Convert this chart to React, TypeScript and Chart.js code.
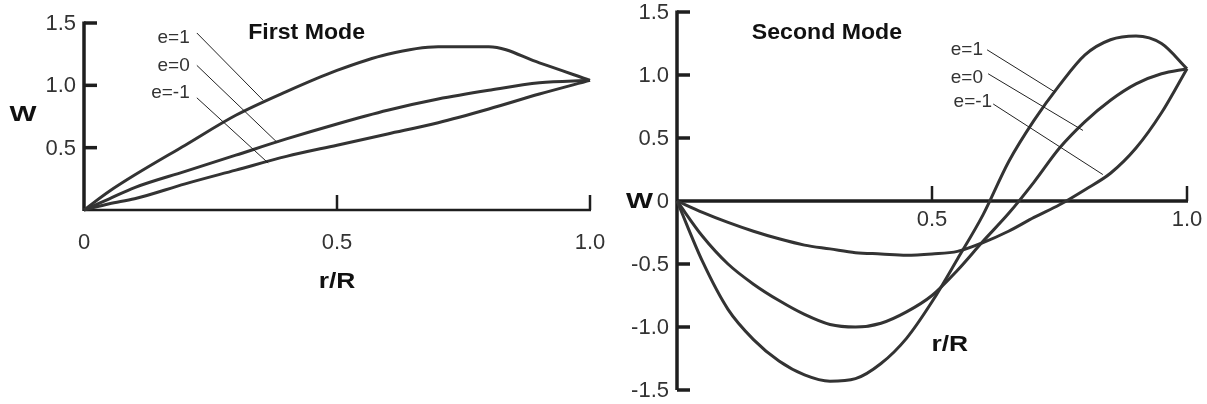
import React, { useEffect, useRef } from 'react';
import { Chart, registerables } from 'chart.js';

Chart.register(...registerables);

// ---------- First mode ----------
const firstR = [0, 0.05, 0.1, 0.2, 0.3, 0.4, 0.5, 0.6, 0.7, 0.8, 0.9, 1.0];
const firstE1 = [0, 0.15, 0.28, 0.52, 0.76, 0.95, 1.12, 1.25, 1.31, 1.31, 1.18, 1.04];
const firstE0 = [0, 0.09, 0.18, 0.31, 0.44, 0.57, 0.69, 0.8, 0.89, 0.96, 1.02, 1.04];
const firstEm1 = [0, 0.05, 0.09, 0.21, 0.32, 0.43, 0.52, 0.61, 0.7, 0.81, 0.93, 1.04];
const firstXTicks = [0, 0.5, 1.0];
const firstXTickLabels = ['0', '0.5', '1.0'];
const firstYTicks = [0.5, 1.0, 1.5];
const firstYTickLabels = ['0.5', '1.0', '1.5'];

// ---------- Second mode ----------
const secondR = [0, 0.05, 0.1, 0.15, 0.2, 0.25, 0.3, 0.35, 0.4, 0.45, 0.5, 0.55, 0.6, 0.65, 0.7, 0.75, 0.8, 0.85, 0.9, 0.95, 1.0];
const secondE1 = [0, -0.48, -0.86, -1.1, -1.27, -1.38, -1.43, -1.41, -1.29, -1.09, -0.8, -0.46, -0.11, 0.31, 0.64, 0.92, 1.16, 1.28, 1.31, 1.25, 1.05];
const secondE0 = [0, -0.28, -0.5, -0.66, -0.79, -0.9, -0.98, -1.0, -0.97, -0.88, -0.75, -0.55, -0.32, -0.1, 0.15, 0.42, 0.63, 0.8, 0.93, 1.01, 1.05];
const secondEm1 = [0, -0.09, -0.17, -0.24, -0.3, -0.35, -0.38, -0.41, -0.42, -0.43, -0.42, -0.4, -0.33, -0.24, -0.13, -0.03, 0.09, 0.22, 0.42, 0.7, 1.05];
const secondXTicks = [0.5, 1.0];
const secondXTickLabels = ['0.5', '1.0'];
const secondYTicks = [-1.5, -1.0, -0.5, 0, 0.5, 1.0, 1.5];
const secondYTickLabels = ['-1.5', '-1.0', '-0.5', '0', '0.5', '1.0', '1.5'];

// curve labels and leader lines (data coordinates)
const curveLabels = ['e=1', 'e=0', 'e=-1'];
const firstLabelAt = [[0.209, 1.38], [0.209, 1.16], [0.209, 0.94]];
const firstLeaderFrom = [[0.223, 1.42], [0.223, 1.16], [0.223, 0.9]];
const firstLeaderTo = [[0.354, 0.88], [0.381, 0.545], [0.364, 0.377]];
const secondLabelAt = [[0.6, 1.2], [0.6, 0.98], [0.618, 0.79]];
const secondLeaderFrom = [[0.608, 1.2], [0.61, 1.01], [0.62, 0.77]];
const secondLeaderTo = [[0.741, 0.865], [0.796, 0.56], [0.835, 0.21]];

const CURVE = '#333333';
const AXIS = '#1e1e1e';
const TEXT = '#333333';
const TICK_FONT = '22px "Liberation Sans", Arial, sans-serif';
const LABEL_FONT = '19px "Liberation Sans", Arial, sans-serif';
const BOLD_FONT = 'bold 22px "Liberation Sans", Arial, sans-serif';

type Spec = {
  title: string;
  titleAt: number[];
  yMin: number;
  yMax: number;
  xTicks: number[];
  xTickLabels: string[];
  yTicks: number[];
  yTickLabels: string[];
  xLabelOffset: number;
  xTitleAt: number[];
  wMode: 'left' | 'zero';
  wAt?: number;
  yAxisWidth: number;
  xAxisWidth: number;
  labelAt: number[][];
  leaderFrom: number[][];
  leaderTo: number[][];
};

function scaledText(ctx: CanvasRenderingContext2D, text: string, x: number, y: number, sx: number) {
  ctx.save();
  ctx.translate(x, y);
  ctx.scale(sx, 1);
  ctx.fillText(text, 0, 0);
  ctx.restore();
}

function makePlugin(spec: Spec) {
  return {
    id: 'customAxes',
    beforeDatasetsDraw(chart: any) {
      const { ctx } = chart;
      const xs = chart.scales.x;
      const ys = chart.scales.y;
      const x0 = xs.getPixelForValue(0);
      const y0 = ys.getPixelForValue(0);
      ctx.save();
      ctx.strokeStyle = AXIS;
      ctx.lineCap = 'butt';
      ctx.lineWidth = spec.yAxisWidth;
      ctx.beginPath();
      ctx.moveTo(x0, ys.getPixelForValue(spec.yMin) + (spec.yMin === 0 ? 1 : 0));
      ctx.lineTo(x0, ys.getPixelForValue(spec.yMax) - 1.5);
      ctx.stroke();
      spec.yTicks.forEach((v) => {
        if (v === 0) return;
        const py = ys.getPixelForValue(v);
        ctx.beginPath();
        ctx.moveTo(x0, py);
        ctx.lineTo(x0 + 13, py);
        ctx.stroke();
      });
      ctx.lineWidth = spec.xAxisWidth;
      ctx.beginPath();
      ctx.moveTo(x0, y0);
      ctx.lineTo(xs.getPixelForValue(1) + 1, y0);
      ctx.stroke();
      ctx.lineWidth = 2.5;
      spec.xTicks.forEach((v) => {
        if (v === 0) return;
        const px = xs.getPixelForValue(v);
        ctx.beginPath();
        ctx.moveTo(px, y0);
        ctx.lineTo(px, y0 - 15);
        ctx.stroke();
      });
      ctx.restore();
    },
    afterDatasetsDraw(chart: any) {
      const { ctx } = chart;
      const xs = chart.scales.x;
      const ys = chart.scales.y;
      const x0 = xs.getPixelForValue(0);
      const y0 = ys.getPixelForValue(0);
      ctx.save();
      ctx.fillStyle = TEXT;
      ctx.font = TICK_FONT;
      ctx.textAlign = 'right';
      ctx.textBaseline = 'middle';
      spec.yTicks.forEach((v, i) => {
        ctx.fillText(spec.yTickLabels[i], x0 - 8, ys.getPixelForValue(v) + 1);
      });
      ctx.textAlign = 'center';
      spec.xTicks.forEach((v, i) => {
        ctx.fillText(spec.xTickLabels[i], xs.getPixelForValue(v), y0 + spec.xLabelOffset);
      });
      ctx.fillStyle = '#111';
      ctx.font = BOLD_FONT;
      ctx.textAlign = 'center';
      scaledText(ctx, spec.title, xs.getPixelForValue(spec.titleAt[0]), ys.getPixelForValue(spec.titleAt[1]), 1.05);
      scaledText(ctx, 'r/R', xs.getPixelForValue(spec.xTitleAt[0]), ys.getPixelForValue(spec.xTitleAt[1]), 1.2);
      if (spec.wMode === 'left') {
        scaledText(ctx, 'W', x0 - 61, ys.getPixelForValue(spec.wAt || 0), 1.3);
      } else {
        ctx.textAlign = 'right';
        scaledText(ctx, 'W', x0 - 24, y0 + 1, 1.3);
      }
      ctx.fillStyle = TEXT;
      ctx.font = LABEL_FONT;
      ctx.textAlign = 'right';
      ctx.textBaseline = 'middle';
      spec.labelAt.forEach((p, i) => {
        ctx.fillText(curveLabels[i], xs.getPixelForValue(p[0]), ys.getPixelForValue(p[1]));
      });
      ctx.strokeStyle = '#222';
      ctx.lineWidth = 1;
      spec.leaderFrom.forEach((p, i) => {
        const q = spec.leaderTo[i];
        ctx.beginPath();
        ctx.moveTo(xs.getPixelForValue(p[0]), ys.getPixelForValue(p[1]));
        ctx.lineTo(xs.getPixelForValue(q[0]), ys.getPixelForValue(q[1]));
        ctx.stroke();
      });
      ctx.restore();
    },
  };
}

function toPoints(r: number[], w: number[]) {
  return r.map((x, i) => ({ x, y: w[i] }));
}

function makeChart(
  canvas: HTMLCanvasElement,
  r: number[],
  series: number[][],
  spec: Spec,
  padding: { left: number; right: number; top: number; bottom: number }
) {
  return new Chart(canvas, {
    type: 'line',
    data: {
      datasets: series.map((w, i) => ({
        label: curveLabels[i],
        data: toPoints(r, w),
        borderColor: CURVE,
        borderWidth: 3,
        pointRadius: 0,
        fill: false,
        cubicInterpolationMode: 'monotone',
        clip: false,
      })) as any,
    },
    options: {
      animation: false,
      responsive: false,
      maintainAspectRatio: false,
      layout: { padding },
      plugins: { legend: { display: false }, tooltip: { enabled: false } },
      scales: {
        x: { type: 'linear', min: 0, max: 1, display: false },
        y: { type: 'linear', min: spec.yMin, max: spec.yMax, display: false },
      },
    },
    plugins: [makePlugin(spec) as any],
  });
}

const LEFT_W = 612;
const RIGHT_W = 1207 - LEFT_W;

export default function App() {
  const leftRef = useRef<HTMLCanvasElement>(null);
  const rightRef = useRef<HTMLCanvasElement>(null);

  useEffect(() => {
    const firstSpec: Spec = {
      title: 'First Mode',
      titleAt: [0.44, 1.42],
      yMin: 0,
      yMax: 1.5,
      xTicks: firstXTicks,
      xTickLabels: firstXTickLabels,
      yTicks: firstYTicks,
      yTickLabels: firstYTickLabels,
      xLabelOffset: 33,
      xTitleAt: [0.5, -0.58],
      wMode: 'left',
      wAt: 0.76,
      yAxisWidth: 3.5,
      xAxisWidth: 2.5,
      labelAt: firstLabelAt,
      leaderFrom: firstLeaderFrom,
      leaderTo: firstLeaderTo,
    };
    const secondSpec: Spec = {
      title: 'Second Mode',
      titleAt: [0.294, 1.33],
      yMin: -1.5,
      yMax: 1.5,
      xTicks: secondXTicks,
      xTickLabels: secondXTickLabels,
      yTicks: secondYTicks,
      yTickLabels: secondYTickLabels,
      xLabelOffset: 19,
      xTitleAt: [0.535, -1.14],
      wMode: 'zero',
      yAxisWidth: 3.5,
      xAxisWidth: 3.5,
      labelAt: secondLabelAt,
      leaderFrom: secondLeaderFrom,
      leaderTo: secondLeaderTo,
    };
    const c1 = makeChart(leftRef.current!, firstR, [firstE1, firstE0, firstEm1], firstSpec, {
      left: 84,
      right: LEFT_W - 590,
      top: 23,
      bottom: 194,
    });
    const c2 = makeChart(rightRef.current!, secondR, [secondE1, secondE0, secondEm1], secondSpec, {
      left: 677 - LEFT_W,
      right: RIGHT_W - (1187 - LEFT_W),
      top: 12,
      bottom: 14,
    });
    return () => {
      c1.destroy();
      c2.destroy();
    };
  }, []);

  return (
    <div style={{ position: 'fixed', left: 0, top: 0, width: 1207, height: 404, background: '#fff' }}>
      <canvas ref={leftRef} width={LEFT_W} height={404} style={{ position: 'absolute', left: 0, top: 0, width: LEFT_W, height: 404 }} />
      <canvas ref={rightRef} width={RIGHT_W} height={404} style={{ position: 'absolute', left: LEFT_W, top: 0, width: RIGHT_W, height: 404 }} />
    </div>
  );
}
